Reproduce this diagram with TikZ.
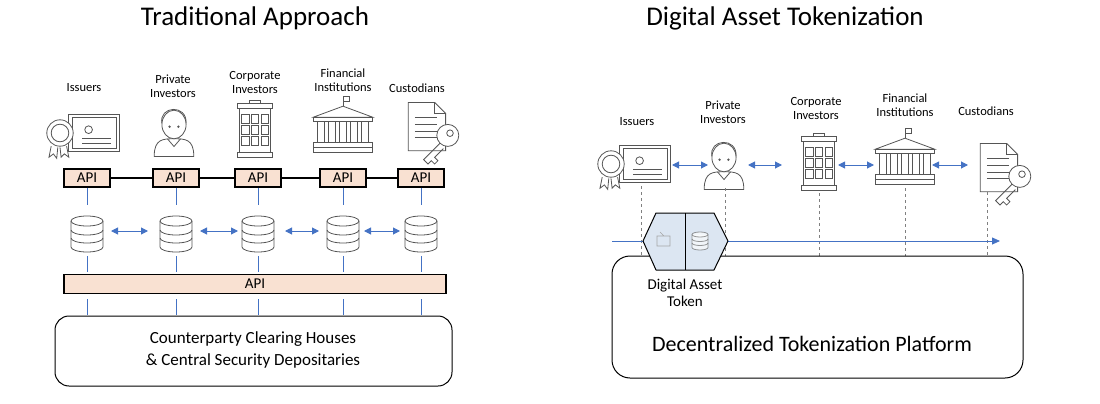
\documentclass[tikz,border=0pt]{standalone}
\usepackage{fontspec}
\setmainfont{Carlito}
\usetikzlibrary{arrows.meta,shapes.geometric}
\definecolor{apib}{HTML}{F9E1D2}
\definecolor{ablue}{HTML}{4472C4}
\definecolor{igray}{HTML}{555555}
\definecolor{hexb}{HTML}{DCE6F2}
\tikzset{
 lbl/.style={font=\fontsize{12.5}{14}\selectfont,align=center},
 ttl/.style={font=\fontsize{27}{30}\selectfont},
 apibox/.style={draw,line width=1.2pt,fill=apib,minimum width=46pt,minimum height=18pt,font=\fontsize{15}{15}\selectfont},
 bl/.style={ablue,line width=0.7pt},
 barr/.style={ablue,line width=1pt,{Triangle[length=7pt,width=7pt]}-{Triangle[length=7pt,width=7pt]}},
 dsh/.style={gray,dashed,line width=0.6pt},
 ic/.style={igray,line width=0.8pt},
 pics/db/.style={code={
   \draw[ic,fill=white] (-16,-13) -- (-16,13) arc[start angle=180,end angle=0,x radius=16,y radius=5] -- (16,-13);
   \draw[ic,fill=white] (0,-13) ellipse[x radius=16,y radius=5];
   \draw[ic] (-16,-4) arc[start angle=180,end angle=0,x radius=16,y radius=5];
   \draw[ic] (-16,4) arc[start angle=180,end angle=0,x radius=16,y radius=5];
 }},
 pics/cert/.style={code={
   \draw[ic] (-12,-17) rectangle (34,17);
   \draw[ic] (-9,-14) rectangle (31,14);
   \draw[ic] (6,-3) circle (3.5);
   \draw[ic] (0,5)--(26,5) (0,9)--(26,9);
   \draw[ic] (-28,12)--(-30,22)--(-26,19)--(-23,23)--(-22,13);
   \draw[ic] (-20,13)--(-19,22)--(-16,19)--(-12,22)--(-14,12);
   \draw[ic,fill=white] (-20,0) circle (12);
   \draw[ic] (-20,0) circle (8);
 }},
 pics/person/.style={code={
   \draw[ic] (-18,24) .. controls (-18,8) and (-10,8) .. (0,8) .. controls (10,8) and (18,8) .. (18,24) -- cycle;
   \draw[ic] (-6,8)--(0,15)--(6,8);
   \draw[ic,fill=white] (0,-5) ellipse[x radius=11,y radius=13];
   \draw[ic] (-11,-6) .. controls (-14,-22) and (12,-24) .. (11,-6);
   \fill[igray] (-4,-3) circle (1.2) (4,-3) circle (1.2);
 }},
 pics/building/.style={code={
   \draw[ic] (-16,-24) rectangle (16,-20);
   \draw[ic] (-14,-20) rectangle (14,20);
   \draw[ic] (-16,20) rectangle (16,25);
   \draw[ic] (-5,-27) rectangle (5,-24);
   \foreach \i in {-1,0,1} \foreach \j in {-1,0,1}
     \draw[ic] (\i*9-3.5,\j*10-4) rectangle (\i*9+3.5,\j*10+4);
 }},
 pics/bank/.style={code={
   \draw[ic] (-27,-8) -- (0,-18) -- (27,-8) -- cycle;
   \draw[ic] (-27,-8) rectangle (27,-4);
   \foreach \i in {-20,-10,0,10,20} \draw[ic] (\i-3,-4) rectangle (\i+3,15);
   \draw[ic] (-27,15) rectangle (27,19);
   \draw[ic] (-27,19) rectangle (27,24);
   \draw[ic] (0,-18)--(0,-27) (0,-27) rectangle (6,-22);
 }},
 pics/dockey/.style={code={
   \draw[ic] (-18,-26) -- (6,-26) -- (16,-16) -- (16,18) -- (-18,18) -- cycle;
   \draw[ic] (6,-26)--(6,-16)--(16,-16);
   \foreach \y in {-12,-6,0,6} \draw[ic] (-12,\y)--(8,\y);
   \draw[ic,fill=white] (18,4) circle (10);
   \draw[ic] (20,2) circle (3);
   \draw[ic] (11,11) -- (-4,26) -- (0,30) -- (3,27) -- (6,30) -- (9,27) -- (6,24) -- (14,16);
 }},
}
\begin{document}
\begin{tikzpicture}[x=1pt,y=-1pt]
\useasboundingbox (0,0) rectangle (1100,404);
% ---------- LEFT ----------
\node[ttl] (t1) at (255,18) {Traditional Approach};
\node[lbl] (l1) at (84,88) {Issuers};
\node[lbl] (l2) at (173,86) {Private\\Investors};
\node[lbl] (l3) at (255,82) {Corporate\\Investors};
\node[lbl] (l4) at (343,80) {Financial\\Institutions};
\node[lbl] (l5) at (417,88) {Custodians};
\pic[scale=1.1] (i1) at (82,133) {cert};
\pic[scale=1.1] (i2) at (174,130) {person};
\pic[scale=1.1] (i3) at (255,130) {building};
\pic[scale=1.1] (i4) at (343,126) {bank};
\pic[scale=1.1] (i5) at (428,131) {dockey};
\foreach \n/\x in {1/87,2/176,3/258,4/343,5/421}{
  \node[apibox] (a\n) at (\x,178) {API};
  \pic at (\x,234) {db};
}
\draw[line width=1.5pt] (a1)--(a2) (a2)--(a3) (a3)--(a4) (a4)--(a5);
\node[draw,line width=1.2pt,fill=apib,minimum width=382pt,minimum height=19pt,font=\fontsize{15}{15}\selectfont] (ab) at (255,284) {API};
\draw[rounded corners=14pt,line width=1pt] (55,316) rectangle (452,386);
\node[font=\fontsize{17}{22}\selectfont,align=center] (cp) at (253,350) {Counterparty Clearing Houses\\\& Central Security Depositaries};
\foreach \n/\x in {1/87,2/176,3/258,4/343,5/421}{
  \draw[bl] (a\n.south) -- (\x,205);
  \draw[bl] (\x,256) -- (\x,272);
  \draw[bl] (\x,299) -- (\x,315);
}
\coordinate (c1a) at (111,231); \coordinate (c1b) at (148,231);
\coordinate (c2a) at (200,231); \coordinate (c2b) at (238,231);
\coordinate (c3a) at (285,231); \coordinate (c3b) at (319,231);
\coordinate (c4a) at (364,231); \coordinate (c4b) at (400,231);
\foreach \k in {1,2,3,4} \draw[barr] (c\k a) -- (c\k b);
% ---------- RIGHT ----------
\node[ttl] (t2) at (785,18) {Digital Asset Tokenization};
\node[lbl] (r1) at (637,122) {Issuers};
\node[lbl] (r2) at (723,112) {Private\\Investors};
\node[lbl] (r3) at (816,108) {Corporate\\Investors};
\node[lbl] (r4) at (905,105) {Financial\\Institutions};
\node[lbl] (r5) at (986,111) {Custodians};
\pic[scale=1.1] at (633,164) {cert};
\pic[scale=1.1] at (724,163) {person};
\pic[scale=1.1] at (819,163) {building};
\pic[scale=1.1] at (905,158) {bank};
\pic[scale=1.1] at (1000,172) {dockey};
\foreach \x/\y in {641/186,725/188,819/193,905/188,987/192}
  \draw[dsh] (\x,\y) -- (\x,256);
\coordinate (p1a) at (672,165); \coordinate (p1b) at (708,165);
\coordinate (p2a) at (748,165); \coordinate (p2b) at (782,165);
\coordinate (p3a) at (838,165); \coordinate (p3b) at (874,165);
\coordinate (p4a) at (932,165); \coordinate (p4b) at (968,165);
\foreach \k in {1,2,3,4} \draw[barr] (p\k a) -- (p\k b);
\draw[rounded corners=18pt,line width=1pt] (612,256) rectangle (1023,378);
\coordinate (fs) at (612,241); \coordinate (fe) at (1000,241);
\draw[ablue,line width=0.8pt,-{Triangle[length=8pt,width=7pt]}] (fs) -- (fe);
\draw[line width=1pt,fill=hexb,line join=round] (656,213) -- (714,213) -- (728,241) -- (714,270) -- (656,270) -- (643,241) -- cycle;
\draw[line width=1pt] (685,213) -- (685,270);
\pic[scale=0.5,opacity=0.6] at (700,241) {db};
\draw[gray!70,line width=0.6pt] (657,236) rectangle (670,246) (660,232) -- (664,236);
\node[font=\fontsize{15}{17}\selectfont,align=center] (dat) at (685,293) {Digital Asset\\Token};
\node[font=\fontsize{22}{24}\selectfont] (dtp) at (812,344) {Decentralized Tokenization Platform};
\end{tikzpicture}
\end{document}
